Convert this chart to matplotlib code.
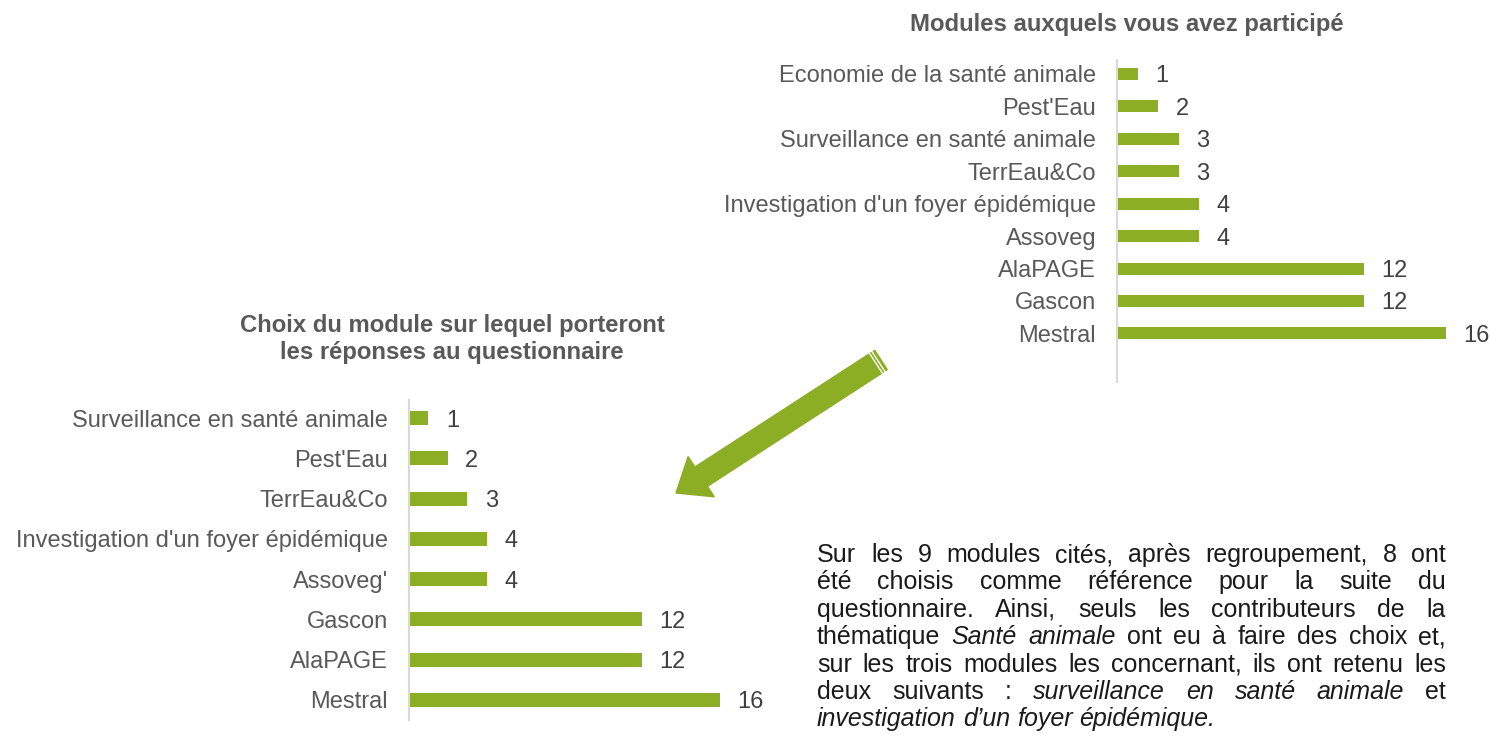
import matplotlib
matplotlib.use("Agg")
import matplotlib.pyplot as plt
from matplotlib.patches import FancyArrow
from matplotlib.lines import Line2D
from matplotlib.transforms import IdentityTransform
import numpy as np

# data
top_labels = ["Economie de la santé animale", "Pest'Eau", "Surveillance en santé animale",
              "TerrEau&Co", "Investigation d'un foyer épidémique", "Assoveg",
              "AlaPAGE", "Gascon", "Mestral"]
top_values = [1, 2, 3, 3, 4, 4, 12, 12, 16]

bottom_labels = ["Surveillance en santé animale", "Pest'Eau", "TerrEau&Co",
                 "Investigation d'un foyer épidémique", "Assoveg'", "Gascon",
                 "AlaPAGE", "Mestral"]
bottom_values = [1, 2, 3, 4, 4, 12, 12, 16]

top_title = "Modules auxquels vous avez participé"
bottom_title = "Choix du module sur lequel porteront\nles réponses au questionnaire"

# paragraph, words marked with * are italic
para_lines = [
    "Sur les 9 modules cités, après regroupement, 8 ont",
    "été choisis comme référence pour la suite du",
    "questionnaire. Ainsi, seuls les contributeurs de la",
    "thématique *Santé *animale ont eu à faire des choix et,",
    "sur les trois modules les concernant, ils ont retenu les",
    "deux suivants : *surveillance *en *santé *animale et",
    "*investigation *d’un *foyer *épidémique.",
]

GREEN = "#8CAE24"
LABEL = "#595959"
VALUE = "#404040"
plt.rcParams['font.family'] = ['Liberation Sans', 'DejaVu Sans']

W, H = 1491, 755
fig = plt.figure(figsize=(W / 100, H / 100), dpi=100)


def px_axes(left, top, right, bottom):
    return fig.add_axes([left / W, 1 - bottom / H, (right - left) / W, (bottom - top) / H])


def draw_bars(ax, labels, values, height, fs):
    y = np.arange(len(labels))
    ax.barh(y, values, height=height, color=GREEN)
    ax.set_yticks(y)
    ax.set_yticklabels(labels, fontsize=fs, color=LABEL)
    ax.tick_params(axis='y', length=0, pad=15)
    ax.set_xticks([])
    for s in ['top', 'right', 'bottom']:
        ax.spines[s].set_visible(False)
    ax.spines['left'].set_color('#D9D9D9')
    ax.spines['left'].set_linewidth(1.5)
    ax.set_xlim(0, 16)
    for yi, v in zip(y, values):
        ax.annotate(str(v), (v, yi), xytext=(12.5, 0), textcoords='offset points',
                    va='center_baseline', ha='left', fontsize=fs, color=VALUE)


ax1 = px_axes(1117, 60, 1446, 382)
draw_bars(ax1, top_labels, top_values, 0.37, 17)
ax1.set_ylim(len(top_values) - 1 + 1.5, -0.43)

ax2 = px_axes(409, 400, 720, 720)
draw_bars(ax2, bottom_labels, bottom_values, 0.35, 17)
ax2.set_ylim(len(bottom_values) - 1 + 0.5, -0.45)

fig.text(1127 / W, 1 - 25 / H, top_title, ha='center', va='center',
         fontsize=17.2, fontweight='bold', color=LABEL)
fig.text(452 / W, 1 - 339 / H, bottom_title, ha='center', va='center',
         fontsize=17.2, fontweight='bold', color=LABEL, linespacing=1.2)

# arrow (display pixels, y from bottom)
tail = np.array([881.0, H - 360.0])
tip = np.array([676.0, H - 493.0])
d = tip - tail
arrow = FancyArrow(tail[0], tail[1], d[0], d[1], width=23, head_width=48,
                   head_length=30, length_includes_head=True, color=GREEN,
                   transform=IdentityTransform())
fig.add_artist(arrow)
u = d / np.hypot(*d)
nrm = np.array([-u[1], u[0]])
for off in (3, 6):
    c = tail + u * off
    p1, p2 = c + nrm * 12, c - nrm * 12
    fig.add_artist(Line2D([p1[0], p2[0]], [p1[1], p2[1]], color='white', lw=1,
                          transform=IdentityTransform()))

# justified paragraph
renderer = fig.canvas.get_renderer()
x0, x1 = 817, 1446
y_first, step = 555, 27.4
pfs = 18
pfam = ['Liberation Sans', 'DejaVu Sans']
sp_a = fig.text(0, 0, 'a a', fontsize=pfs, family=pfam)
sp_b = fig.text(0, 0, 'aa', fontsize=pfs, family=pfam)
space = sp_a.get_window_extent(renderer).width - sp_b.get_window_extent(renderer).width
sp_a.remove()
sp_b.remove()
for i, line in enumerate(para_lines):
    words = line.split(' ')
    ys = H - (y_first + i * step)
    arts = []
    for w in words:
        ital = w.startswith('*')
        t = fig.text(0, ys / H, w.lstrip('*'), fontsize=pfs, family=pfam,
                     style='italic' if ital else 'normal', color='#1A1A1A',
                     va='center', ha='left')
        arts.append(t)
    widths = [a.get_window_extent(renderer).width for a in arts]
    if i < len(para_lines) - 1:
        gap = (x1 - x0 - sum(widths)) / (len(words) - 1)
    else:
        gap = space
    x = x0
    for a, wd in zip(arts, widths):
        a.set_x(x / W)
        x += wd + gap

fig.savefig("out.png", dpi=100)
